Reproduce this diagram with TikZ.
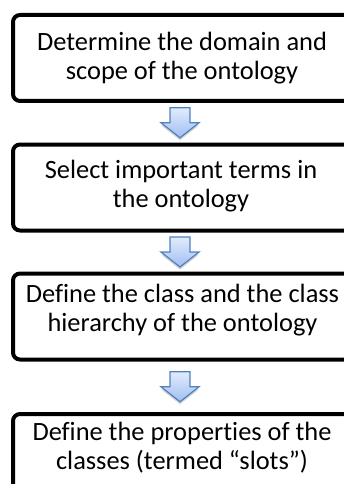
\documentclass[tikz,border=0pt]{standalone}
\usepackage{fontspec}
\setmainfont{Carlito}[Ligatures=NoCommon]
\usetikzlibrary{calc,shadows}

\definecolor{arrowline}{RGB}{79,129,189}
\definecolor{arrowtop}{RGB}{226,235,252}
\definecolor{arrowbot}{RGB}{160,190,242}

\tikzset{
  stepbox/.style={draw=black, line width=4pt, rounded corners=7pt,
    minimum width=338pt, minimum height=86pt, inner sep=0pt},
  steptext/.style={anchor=north, align=center, inner sep=0pt,
    font=\fontsize{26.4}{29.5}\selectfont},
  flowarrow/.style={draw=arrowline, line width=1.2pt, line join=miter,
    top color=arrowtop, bottom color=arrowbot,
    drop shadow={opacity=0.18, shadow xshift=0pt, shadow yshift=-2.5pt, fill=black}},
  pics/downarrow/.style={code={
    \path[flowarrow] (-10,-15) -- (10,-15) -- (10,0) -- (19,0) -- (0,15)
      -- (-19,0) -- (-10,0) -- cycle;}}
}

\begin{document}
\begin{tikzpicture}[x=1pt,y=-1pt]
  \useasboundingbox (0,0) rectangle (344,484);
  \clip (0,0) rectangle (344,484);

  % the four process steps
  \node[stepbox] (b1) at (182,58) {};
  \node[stepbox] (b2) at (182,187.5) {};
  \node[stepbox] (b3) at (182,316.5) {};
  \node[stepbox] (b4) at (182,457) {};

  \node[steptext] (t1) at (182,29.4) {\strut Determine the domain and\\\strut scope of the ontology};
  \node[steptext] (t2) at (181,157.4) {\strut Select important terms in\\\strut the ontology};
  \node[steptext] (t3) at (182.5,281.4) {\strut Define the class and the class\\\strut hierarchy of the ontology};
  \node[steptext] (t4) at (182,419.4) {\strut Define the properties of the\\\strut classes (termed “slots”)};

  % block arrows between consecutive steps
  \pic at ($(b1.south)!0.5!(b2.north)+(-2,0)$) {downarrow};
  \pic at ($(b2.south)!0.5!(b3.north)+(-2,0)$) {downarrow};
  \pic at ($(b3.south)!0.5!(b4.north)+(-2,0)$) {downarrow};
\end{tikzpicture}
\end{document}
